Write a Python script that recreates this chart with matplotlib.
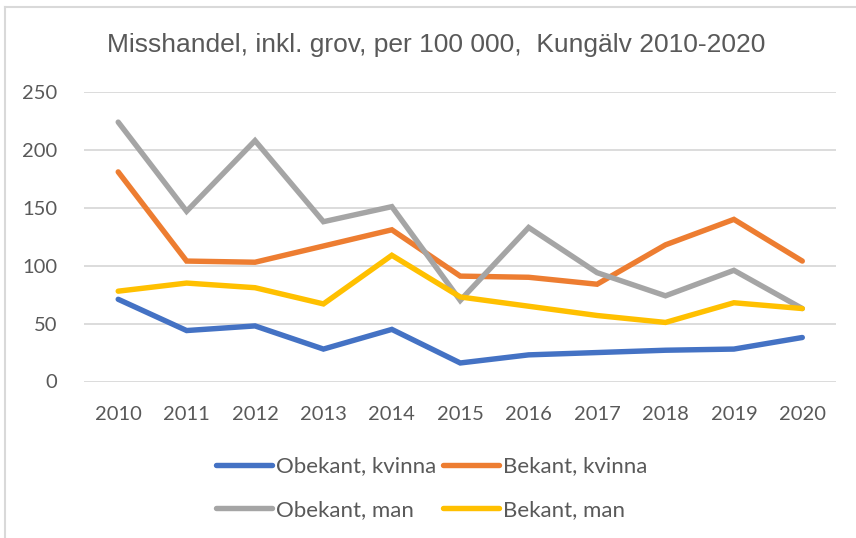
import matplotlib
matplotlib.use('Agg')
import matplotlib.pyplot as plt
from matplotlib.lines import Line2D
import numpy as np

years = [2010, 2011, 2012, 2013, 2014, 2015, 2016, 2017, 2018, 2019, 2020]
obekant_kvinna = [71, 44, 48, 28, 45, 16, 23, 25, 27, 28, 38]
bekant_kvinna = [181, 104, 103, 117, 131, 91, 90, 84, 118, 140, 104]
obekant_man = [224, 147, 208, 138, 151, 70, 133, 94, 74, 96, 63]
bekant_man = [78, 85, 81, 67, 109, 73, 65, 57, 51, 68, 63]
y_ticks = [0, 50, 100, 150, 200, 250]

title = 'Misshandel, inkl. grov, per 100 000,  Kungälv 2010-2020'
series = [
    ('Obekant, kvinna', obekant_kvinna, '#4472C4'),
    ('Bekant, kvinna', bekant_kvinna, '#ED7D31'),
    ('Obekant, man', obekant_man, '#A5A5A5'),
    ('Bekant, man', bekant_man, '#FFC000'),
]

txt = '#595959'
plt.rcParams['font.family'] = ['Lato', 'DejaVu Sans']

fig = plt.figure(figsize=(8.56, 5.38), dpi=100)
ax = fig.add_axes([84/856, 1-381.5/538, (836.5-84)/856, (381.5-92)/538])

x = np.arange(len(years))
handles = {}
for name, vals, col in series:
    ln, = ax.plot(x, vals, color=col, lw=3.9, solid_capstyle='round',
                  solid_joinstyle='miter', label=name)
    handles[name] = ln

ax.set_xlim(-0.5, len(years)-0.5)
ax.set_ylim(0, 250)
ax.set_yticks(y_ticks)
ax.set_xticks(x)
ax.set_xticklabels([str(y) for y in years])
ax.grid(axis='y', color='#D9D9D9', lw=1.3)
ax.set_axisbelow(True)
for s in ax.spines.values():
    s.set_visible(False)
ax.tick_params(axis='both', length=0, labelsize=14.5, colors=txt)
ax.tick_params(axis='y', pad=19)
ax.tick_params(axis='x', pad=18)

fig.text(0.51, 1-45/538, title, ha='center', va='center', fontsize=19,
         color=txt, family=['Liberation Sans', 'DejaVu Sans'])

order = ['Obekant, kvinna', 'Obekant, man', 'Bekant, kvinna', 'Bekant, man']
fig.legend([handles[n] for n in order], order, ncol=2, loc='center',
           bbox_to_anchor=(432/856, 1-488/538), frameon=False,
           fontsize=16, labelcolor=txt, handlelength=2.5,
           handletextpad=0.2, columnspacing=0.3, labelspacing=1.05)

# outer chart frame (left and top edges visible in the crop)
fig.add_artist(Line2D([5/856, 5/856], [0, 1-7/538], color='#D9D9D9', lw=1.5,
                      transform=fig.transFigure))
fig.add_artist(Line2D([5/856, 1], [1-7/538, 1-7/538], color='#D9D9D9', lw=1.5,
                      transform=fig.transFigure))

fig.savefig('out.png', dpi=100)
